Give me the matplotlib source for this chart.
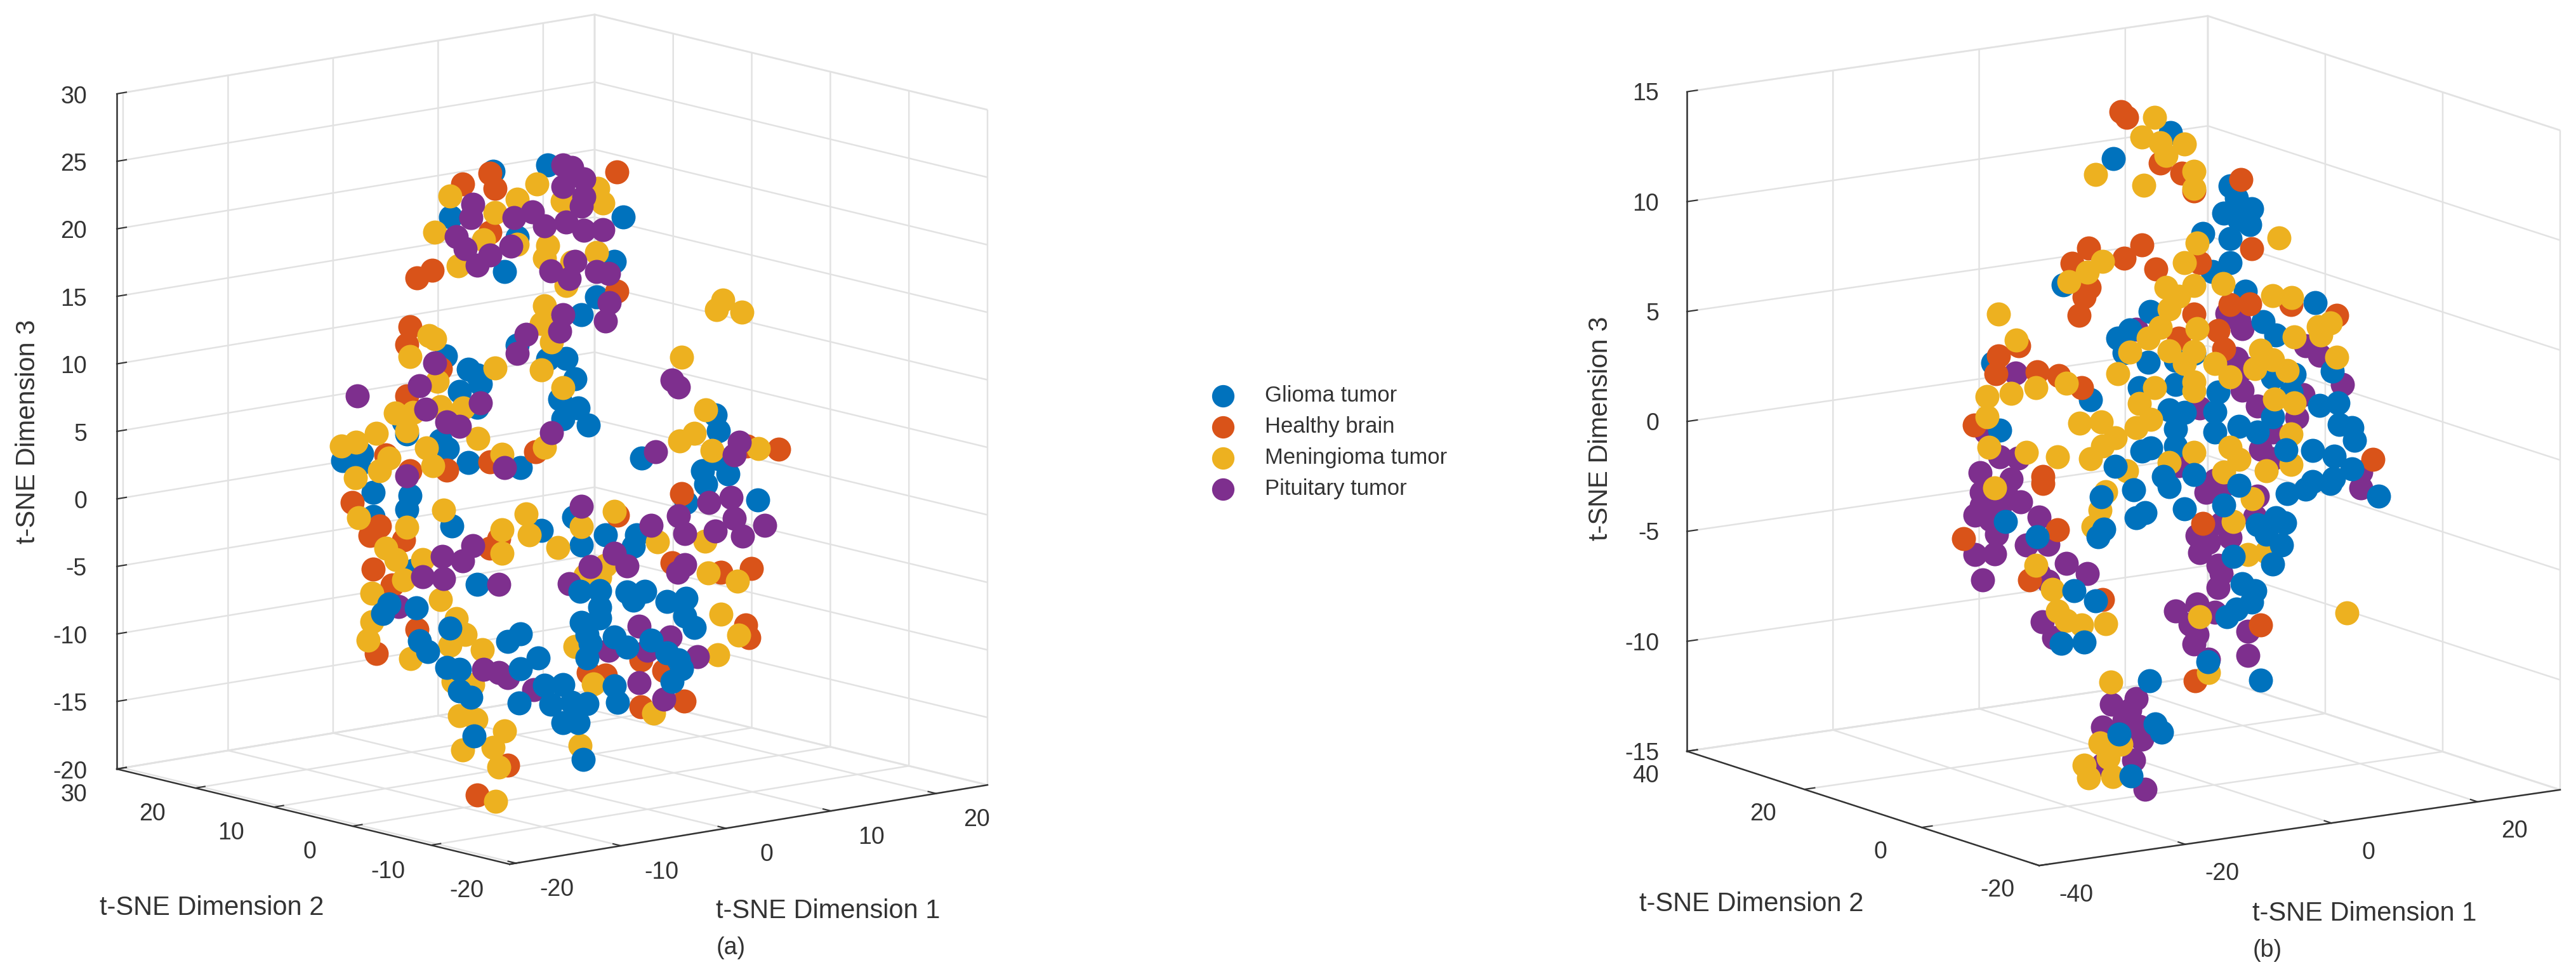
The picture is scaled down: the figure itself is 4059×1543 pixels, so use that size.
import matplotlib
matplotlib.use("Agg")
import numpy as np
import matplotlib.pyplot as plt
from matplotlib.transforms import ScaledTranslation
from mpl_toolkits.mplot3d import proj3d

W, H, DPI = 4059, 1543, 300
plt.rcParams['font.family'] = ['Liberation Sans', 'DejaVu Sans']
plt.rcParams['axes.unicode_minus'] = False

CLASSES = ['Glioma tumor', 'Healthy brain', 'Meningioma tumor', 'Pituitary tumor']
COLORS = ['#0072BD', '#D95319', '#EDB120', '#7E2F8E']

# Values as (dimension 1, dimension 3); depth along dimension 2
# cannot be recovered from a single view, so each panel uses one value for it.
DIM2_A = 5.0
DIM2_B = 10.0

GLIOMA_A = [(1.7,25.4),(-3.5,25.6),(-7.5,22.7),(8.9,20.6),(-1.2,20.4),(-2.4,18.0),(8.1,17.4),(6.4,15.0),(4.9,13.9),(-8.0,12.5),
(-5.8,11.2),(-5.0,10.7),(-4.7,10.0),(-6.7,9.7),(-5.0,8.3),(-1.2,12.4),(3.5,10.8),(1.7,11.0),(4.3,9.2),(2.9,7.9),(4.6,7.0),(3.2,6.4),
(5.6,5.6),(17.7,4.8),(18.0,3.6),(10.7,2.5),(-12.0,8.1),(-11.7,7.2),(-16.0,6.3),(-17.8,6.0),(-16.3,5.5),(-8.5,6.3),(-7.8,5.6),(-5.8,4.3),
(-0.9,3.3),(18.0,1.5),(16.5,0.8),(18.9,0.3),(-14.9,3.3),(-11.4,2.6),(-11.7,1.6),(-14.9,1.5),(-7.4,-0.2),(-5.0,-4.8),(-11.1,-3.0),
(-13.4,-5.2),(-14.0,-5.8),(-10.8,-5.8),(-7.6,-7.7),(-10.5,-8.3),(-9.7,-9.2),(-7.9,-10.6),(-6.7,-10.9),(-6.7,-12.5),(-5.6,-13.1),
(-1.0,-14.1),(-2.1,-9.4),(-0.9,-9.0),(0.8,-11.0),(-0.9,-11.6),(1.4,-13.1),(3.2,-13.3),(2.0,-14.6),(4.2,-1.0),(1.1,-1.6),(7.2,-2.7),
(4.9,-3.2),(10.2,-3.1),(9.9,-3.9),(14.9,-1.3),(21.7,-2.0),(16.8,-0.2),(4.8,-6.6),(6.7,-6.8),(9.3,-7.2),(11.0,-7.4),(9.9,-7.9),(13.1,-8.4),
(14.9,-8.4),(6.7,-8.0),(14.8,-9.7),(15.7,-10.7),(4.9,-8.9),(6.7,-8.8),(5.5,-9.9),(5.8,-10.6),(8.1,-10.4),(9.3,-11.3),(5.5,-11.6),
(13.1,-12.2),(14.2,-12.9),(14.5,-13.6),(13.6,-14.4),(8.1,-14.0),(8.4,-15.3),(5.5,-15.0),(4.0,-14.7),(3.2,-16.1),(4.6,-16.3),(5.1,-19.1),
(-5.3,-16.0),(11.6,-11.1)]
HEALTHY_A = [(-6.4,25.0),(-3.8,25.5),(-3.3,24.3),(8.3,24.0),(-3.8,21.1),(-9.3,19.0),(-10.7,18.6),(-11.4,15.1),(-11.7,13.8),(8.3,15.2),
(-8.5,11.6),(-11.7,10.0),(0.6,4.3),(-3.8,4.1),(20.7,2.1),(23.7,1.5),(-13.7,5.9),(-11.4,4.4),(-7.9,4.0),(-16.9,2.8),(-15.2,0.1),(-14.3,0.7),
(-12.0,-0.6),(-2.9,-1.7),(-14.9,-2.4),(-13.1,-3.8),(-10.7,-7.4),(-14.6,-8.7),(14.5,-0.6),(8.4,-1.4),(13.6,-5.6),(18.2,-6.9),(21.1,-7.0),
(20.6,-11.1),(20.9,-12.1),(10.6,-12.4),(12.8,-13.5),(5.6,-12.7),(7.2,-13.1),(10.6,-15.9),(14.7,-16.0),(-2.1,-18.6),(-5.0,-20.4),(-3.8,-2.3)]
MENINGIOMA_A = [(-7.6,24.3),(0.7,24.1),(-1.2,23.2),(7.0,21.9),(6.5,23.0),(3.1,22.5),(-3.3,22.5),(-9.0,21.8),(-4.4,20.6),(-1.2,19.9),(1.7,19.4),
(1.4,18.5),(-6.8,19.0),(6.4,18.3),(4.0,17.9),(3.5,16.2),(1.4,15.0),(1.1,13.7),(-9.6,14.2),(-9.0,13.9),(2.1,12.2),(-11.4,12.9),(-3.3,11.0),
(1.1,10.3),(3.2,8.7),(-8.8,10.7),(-8.5,8.8),(-6.3,8.4),(-12.8,8.9),(-11.1,8.7),(-11.7,7.4),(-14.6,7.6),(-4.9,6.0),(-17.9,7.1),(-16.5,7.2),
(-9.8,5.9),(1.4,4.5),(-2.6,4.5),(-13.4,5.6),(-9.2,4.5),(14.5,9.5),(16.8,5.3),(14.3,3.3),(15.7,3.7),(17.4,2.2),(18.4,13.2),(17.8,12.6),
(20.2,12.1),(21.8,1.8),(-16.6,4.6),(-14.3,4.8),(-16.3,1.6),(-8.2,1.1),(-11.7,0.3),(-0.3,-0.2),(0.0,-1.8),(2.7,-3.1),(4.9,-1.8),(8.1,-1.1),
(12.2,-3.9),(-2.6,-1.1),(-2.6,-2.8),(-13.7,-1.0),(-12.7,-2.0),(-10.2,-2.3),(-12.0,-3.6),(-8.5,-5.5),(-15.0,-4.2),(-15.0,-6.3),(-15.4,-7.6),
(-7.0,-7.1),(-6.1,-8.4),(-7.6,-9.0),(-4.5,-9.7),(4.3,-10.6),(-11.3,-9.5),(-6.7,-14.3),(-5.1,-14.8),(-2.4,-16.0),(-6.4,-16.9),(-3.5,-17.1),
(-2.9,-18.6),(4.8,-18.0),(-3.2,-21.1),(6.1,-13.6),(16.7,-4.4),(17.0,-6.8),(19.8,-7.8),(18.2,-10.0),(19.9,-11.8),(17.9,-13.0),(11.8,-16.5),
(7.2,-5.0),(6.7,-5.8),(5.3,-5.5),(-7.3,-11.7),(-5.4,-12.2)]
PITUITARY_A = [(3.2,25.2),(4.0,24.9),(5.2,23.9),(3.2,23.6),(5.2,22.6),(-5.4,23.4),(-5.6,22.4),(-1.5,21.9),(0.3,22.1),(1.4,20.9),(3.5,20.9),
(5.2,20.1),(7.0,19.9),(4.9,21.9),(-7.0,21.2),(-6.1,20.2),(-3.8,19.4),(-5.0,18.8),(-1.8,19.8),(4.3,17.9),(2.0,17.5),(3.8,16.7),(6.4,16.9),
(7.5,16.6),(7.6,14.4),(7.2,13.1),(3.2,14.1),(2.9,12.9),(-0.3,13.1),(-1.2,11.8),(-10.5,10.6),(-9.0,12.1),(-9.9,8.8),(-7.9,7.6),(-6.7,7.1),
(-4.7,8.6),(2.1,5.5),(13.6,7.9),(14.2,7.3),(12.0,2.8),(20.0,2.5),(-2.4,3.5),(-11.7,4.1),(-16.4,10.6),(19.5,1.6),(4.9,-0.3),(11.6,-2.6),
(14.2,-2.2),(17.1,-1.6),(19.2,-1.5),(19.5,-3.1),(20.3,-4.5),(22.4,-4.0),(14.8,-3.6),(17.7,-3.8),(-5.4,-1.9),(-6.4,-2.9),(-8.3,-2.3),(-8.2,-4.0),
(-10.2,-3.6),(-2.9,-5.1),(5.8,-4.9),(9.3,-5.3),(8.1,-4.2),(3.8,-5.9),(14.1,-6.4),(10.4,-9.9),(13.4,-11.1),(11.2,-11.8),(7.5,-11.3),(16.0,-12.9),
(-4.4,-11.2),(-2.9,-11.6),(-2.1,-12.1),(0.4,-13.3),(10.4,-14.1),(12.8,-15.6),(-12.5,-5.5),(14.8,-5.9)]

GLIOMA_B = [(2.1,13.7),(-5.7,12.9),(10.2,10.9),(11.1,10.3),(9.4,9.7),(13.2,9.7),(11.5,9.3),(12.9,9.0),(6.5,8.9),(10.2,8.5),(10.2,7.4),(7.8,7.1),
(-12.6,7.5),(12.3,6.0),(-0.7,5.7),(-5.1,4.7),(-3.5,5.0),(21.9,5.0),(-22.2,4.4),(-8.9,2.1),(-21.3,1.3),(16.5,3.8),(14.8,4.5),(-4.3,4.0),(-1.0,3.4),
(2.8,3.3),(5.3,3.5),(24.2,1.8),(19.0,1.9),(16.1,1.9),(-2.2,2.3),(2.8,2.2),(8.6,1.6),(22.5,0.3),(25.0,0.3),(18.6,1.1),(1.9,1.1),(4.0,0.9),(8.2,0.7),
(8.2,-0.2),(2.8,0.2),(2.8,-0.6),(-1.8,-0.6),(-0.6,-0.5),(11.5,-0.1),(14.0,-0.5),(16.1,0.1),(25.2,-0.7),(26.9,-0.9),(27.3,-1.5),(21.5,-1.7),(24.5,-2.1),
(17.9,-1.5),(-5.5,-1.1),(5.3,-2.0),(1.1,-1.9),(26.9,-2.8),(21.5,-3.1),(24.4,-3.1),(-7.4,-2.4),(-3.0,-2.3),(1.9,-2.4),(11.5,-2.8),(18.1,-3.5),(20.6,-3.4),
(24.0,-3.3),(30.6,-4.2),(4.0,-3.5),(9.4,-3.6),(-2.6,-3.6),(-1.4,-3.4),(-20.5,-2.9),(-7.0,-3.9),(-7.8,-4.2),(-16.2,-3.8),(14.0,-4.7),(16.5,-4.5),(17.7,-4.8),
(15.2,-5.2),(17.3,-5.8),(16.1,-6.6),(10.7,-6.0),(11.9,-7.3),(13.6,-7.7),(13.2,-8.2),(11.1,-8.4),(9.8,-8.7),(-11.1,-6.5),(-8.2,-7.1),(-12.9,-8.8),(-9.7,-8.9),
(7.2,-10.6),(14.4,-11.8),(-0.8,-11.1),(0.0,-13.1),(0.9,-13.5),(-5.0,-13.3),(-3.3,-15.3)]
HEALTHY_B = [(-4.7,15.0),(-3.9,14.7),(0.7,12.4),(3.6,11.8),(5.3,10.9),(11.7,11.1),(13.2,7.9),(6.1,7.6),(-9.1,9.0),(-11.4,8.4),(-4.3,8.3),(-1.8,8.8),(0.1,7.6),
(-9.0,7.2),(-9.7,6.8),(-10.4,6.0),(8.6,4.4),(3.2,4.3),(5.3,5.3),(10.2,5.5),(12.9,5.4),(24.8,4.3),(-18.7,5.0),(-21.5,4.7),(-21.8,3.9),(-16.2,3.7),(-13.2,3.4),
(-10.1,2.7),(-24.8,1.7),(29.8,-2.5),(18.6,5.1),(9.4,3.5),(-15.4,-1.1),(-26.2,-3.4),(-13.4,-3.6),(6.5,-4.3),(-17.2,-5.7),(-7.2,-7.1),(14.4,-9.3),(5.5,-11.4),(-15.4,-1.4)]
MENINGIOMA_B = [(-0.1,14.5),(-1.8,13.7),(0.7,13.3),(4.0,13.1),(1.5,12.7),(-8.2,12.3),(-1.6,11.5),(5.3,11.8),(5.3,11.0),(16.9,8.2),(5.7,8.5),(4.0,7.7),(-7.2,8.3),
(-9.3,7.9),(-11.8,7.6),(9.3,6.5),(1.5,6.7),(3.2,6.2),(5.3,6.6),(1.9,5.7),(0.7,4.9),(5.7,4.6),(-1.0,4.5),(16.1,5.6),(18.7,5.4),(19.0,3.6),(24.0,4.0),(22.7,3.5),
(22.3,3.9),(-21.5,6.6),(-19.0,5.3),(1.9,3.8),(5.3,3.6),(4.0,3.1),(-3.5,4.0),(8.2,2.9),(-5.1,3.1),(10.2,2.2),(14.4,3.2),(16.1,2.7),(18.1,2.1),(13.6,2.4),(24.8,2.4),
(-16.3,3.0),(-12.2,3.0),(-23.0,2.9),(-19.7,2.9),(-0.1,2.2),(5.3,1.8),(5.3,2.2),(-2.2,1.6),(-0.6,0.8),(-2.6,0.5),(16.3,0.9),(19.0,0.6),(-7.4,1.0),(-10.3,1.1),
(-23.0,2.0),(-22.8,0.6),(-5.5,0.2),(-7.2,-0.1),(-8.9,-0.6),(-13.4,-0.3),(-17.6,0.1),(18.6,-0.8),(18.6,-2.2),(10.2,-1.0),(11.5,-1.6),(9.4,-2.1),(15.2,-2.3),(5.3,-1.0),
(-3.9,-1.4),(1.9,-1.3),(-6.8,-2.2),(-7.6,-3.0),(-8.5,-3.7),(13.3,-3.5),(10.7,-4.4),(12.7,-6.0),(-16.3,-5.1),(-14.1,-6.3),(-13.4,-7.3),(-12.2,-7.8),(-10.1,-8.1),
(-6.8,-8.2),(26.2,-9.3),(-22.0,-1.3),(7.3,-11.1),(-6.1,-10.9),(-7.6,-13.6),(-4.7,-13.8),(-9.7,-14.5),(-6.4,-14.3),(-9.1,-15.1),(-5.8,-15.2),(15.2,-6.0),(6.1,-8.5)]
PITUITARY_B = [(9.8,5.1),(11.5,4.7),(11.9,4.3),(-2.6,5.0),(-19.1,3.8),(20.6,3.1),(22.5,2.6),(11.1,3.0),(12.3,2.5),(25.6,1.1),(11.9,1.5),(20.2,0.9),(14.0,0.7),(19.4,-0.1),
(6.1,1.0),(-23.2,1.3),(-18.8,-0.1),(-21.3,0.1),(-24.0,-0.5),(-19.7,-1.0),(28.1,-3.0),(14.4,-1.3),(16.1,-0.6),(16.1,-1.8),(3.2,-1.5),(8.2,-2.4),(-23.8,-1.4),(-20.5,-1.5),
(-23.8,-2.0),(-24.7,-2.4),(-21.3,-2.2),(-18.4,-2.1),(-22.6,-2.7),(-15.9,-2.9),(-21.7,-3.4),(-17.6,-4.1),(-14.7,-4.2),(-24.7,-4.2),(-22.0,-4.3),(-12.2,-5.2),(-9.3,-5.8),
(-15.9,-5.5),(-14.7,-5.9),(-23.6,-5.4),(6.9,-2.9),(9.0,-2.8),(5.7,-4.8),(7.3,-5.2),(6.1,-5.6),(10.2,-5.1),(9.0,-4.4),(13.6,-4.3),(8.6,-6.3),(9.0,-6.7),(8.6,-7.3),(5.7,-7.9),
(2.8,-8.1),(8.2,-8.4),(-15.5,-7.7),(-13.9,-8.5),(4.8,-8.8),(5.7,-9.3),(5.3,-9.7),(7.3,-10.5),(12.7,-9.5),(12.7,-10.6),(14.0,-3.4),(28.1,-3.7),(-6.0,-11.9),(-2.6,-11.8),
(-3.5,-12.3),(-4.3,-12.7),(-7.2,-12.9),(-2.2,-13.1),(-1.8,-13.7),(-3.0,-14.6),(-1.4,-16.0),(-7.2,-14.6)]

XLIM_A, YLIM_A, ZLIM_A = (-20.6, 24.9), (-20, 30), (-20, 30)
XLIM_B, YLIM_B, ZLIM_B = (-40, 31.3), (-20, 40), (-15, 15)
XT_A, YT_A, ZT_A = list(range(-20, 21, 10)), list(range(-20, 31, 10)), list(range(-20, 31, 5))
XT_B, YT_B, ZT_B = list(range(-40, 21, 20)), list(range(-20, 41, 20)), list(range(-15, 16, 5))

DOT = 83
GRID = '#e2e2e2'
INK = '#333333'

fig = plt.figure(figsize=(W / DPI, H / DPI), dpi=DPI, facecolor='white')


def px_text(x, y, s, **kw):
    fig.text(x / W, 1 - y / H, s, ha='center', va='center', color=INK, **kw)


def to_px(ax, x, y, z):
    xp, yp, _ = proj3d.proj_transform(x, y, z, ax.get_proj())
    p = ax.transData.transform((xp, yp))
    return p[0], H - p[1]


def nudge_tick_labels(axis, dx, dy, ha='center'):
    """Shift an axis' tick labels by (dx, dy) pixels (y downwards); mplot3d resets transforms on every draw."""
    original = axis.get_major_ticks

    def patched(numticks=None):
        ticks = original(numticks)
        offset = ScaledTranslation(dx / DPI, -dy / DPI, fig.dpi_scale_trans)
        for t in ticks:
            t.label1.set_transform(axis.axes.transData + offset)
            t.label1.set_ha(ha)
        return ticks

    axis.get_major_ticks = patched


def panel(series, layers, dim2, xlim, ylim, zlim, xt, yt, zt, elev, azim, aspect, left_px, right_px, nudges):
    ax = fig.add_axes([0.3, 0.1, 800 / W, 800 / H], projection='3d', computed_zorder=False)
    ax.set_proj_type('ortho')
    ax.view_init(elev=elev, azim=azim)
    ax.set_box_aspect(aspect)
    handles = {}
    for i, zlo, zhi in layers:
        xs, zs = np.array(series[i]).T
        keep = (zs >= zlo) & (zs < zhi)
        art = ax.scatter(xs[keep], np.full(keep.sum(), dim2), zs[keep], s=DOT, c=COLORS[i], linewidths=0,
                         depthshade=False, clip_on=False)
        handles.setdefault(i, art)
    ax.set_xlim(*xlim); ax.set_ylim(*ylim); ax.set_zlim(*zlim)
    ax.set_xticks(xt); ax.set_yticks(yt); ax.set_zticks(zt)
    ax.set_xticklabels([str(t) for t in xt]); ax.set_yticklabels([str(t) for t in yt]); ax.set_zticklabels([str(t) for t in zt])
    ax.patch.set_alpha(0)
    for axis in (ax.xaxis, ax.yaxis, ax.zaxis):
        axis.pane.set_facecolor((1, 1, 1, 0))
        axis.pane.set_edgecolor(GRID)
        axis.pane.set_linewidth(0.7)
        axis.line.set_color(INK)
        axis.line.set_linewidth(0.6)
        axis._axinfo['grid'].update(color=GRID, linewidth=0.6)
        axis._axinfo['tick'].update(inward_factor=0.0, outward_factor=0.25, linewidth={True: 0.5, False: 0.5})
        axis.set_tick_params(labelsize=9, labelcolor=INK, color=INK, pad=3)
    nudge_tick_labels(ax.xaxis, *nudges[0])
    nudge_tick_labels(ax.yaxis, *nudges[1])
    nudge_tick_labels(ax.zaxis, *nudges[2], ha='right')
    # scale and shift the axes so the box corners land where they do in the reference
    x0, x1 = xlim; y0, y1 = ylim; z0, z1 = zlim
    side = 800.0
    for _ in range(2):
        l = to_px(ax, x0, y1, z0); r = to_px(ax, x1, y0, z0)
        side *= (right_px[0] - left_px[0]) / (r[0] - l[0])
        ax.set_position([0.3, 0.1, side / W, side / H])
    l = to_px(ax, x0, y1, z0)
    pos = ax.get_position()
    ax.set_position([pos.x0 + (left_px[0] - l[0]) / W, pos.y0 - (left_px[1] - l[1]) / H, pos.width, pos.height])
    return ax, handles


INF = 1e9
ax_a, h_a = panel([GLIOMA_A, HEALTHY_A, MENINGIOMA_A, PITUITARY_A],
                  [(0, -5, INF), (1, -INF, INF), (2, -INF, INF), (3, -INF, INF), (0, -INF, -5)],
                  DIM2_A, XLIM_A, YLIM_A, ZLIM_A, XT_A, YT_A, ZT_A, 11.57, -129.6, (977, 971, 1086),
                  (184, 1212), (1556, 1237), [(32, -39), (-29, -38), (24, -12)])
ax_b, h_b = panel([GLIOMA_B, HEALTHY_B, MENINGIOMA_B, PITUITARY_B],
                  [(3, -INF, INF), (0, -1, INF), (1, -INF, INF), (2, -INF, INF), (0, -INF, -1)],
                  DIM2_B, XLIM_B, YLIM_B, ZLIM_B, XT_B, YT_B, ZT_B, 12.55, -123.8, (988, 998, 1065),
                  (2658, 1184), (4034, 1244), [(30, -34), (-23, -39), (27, -11)])

LAB = 10
px_text(1305, 1436, 't-SNE Dimension 1', fontsize=LAB)
px_text(334, 1431, 't-SNE Dimension 2', fontsize=LAB)
px_text(44, 680, 't-SNE Dimension 3', fontsize=LAB, rotation=90)
px_text(1152, 1494, '(a)', fontsize=9)
px_text(3726, 1440, 't-SNE Dimension 1', fontsize=LAB)
px_text(2760, 1425, 't-SNE Dimension 2', fontsize=LAB)
px_text(2522, 675, 't-SNE Dimension 3', fontsize=LAB, rotation=90)
px_text(3573, 1498, '(b)', fontsize=9)

fig.legend(handles=[h_a[i] for i in range(4)], labels=CLASSES, loc='upper left',
           bbox_to_anchor=(1892 / W, 1 - 607 / H), frameon=False, fontsize=8.3, borderpad=0, borderaxespad=0,
           labelspacing=0.46, handletextpad=0.93, handlelength=2, scatterpoints=1, markerscale=0.93, labelcolor=INK)

fig.savefig('out.png', dpi=DPI)
